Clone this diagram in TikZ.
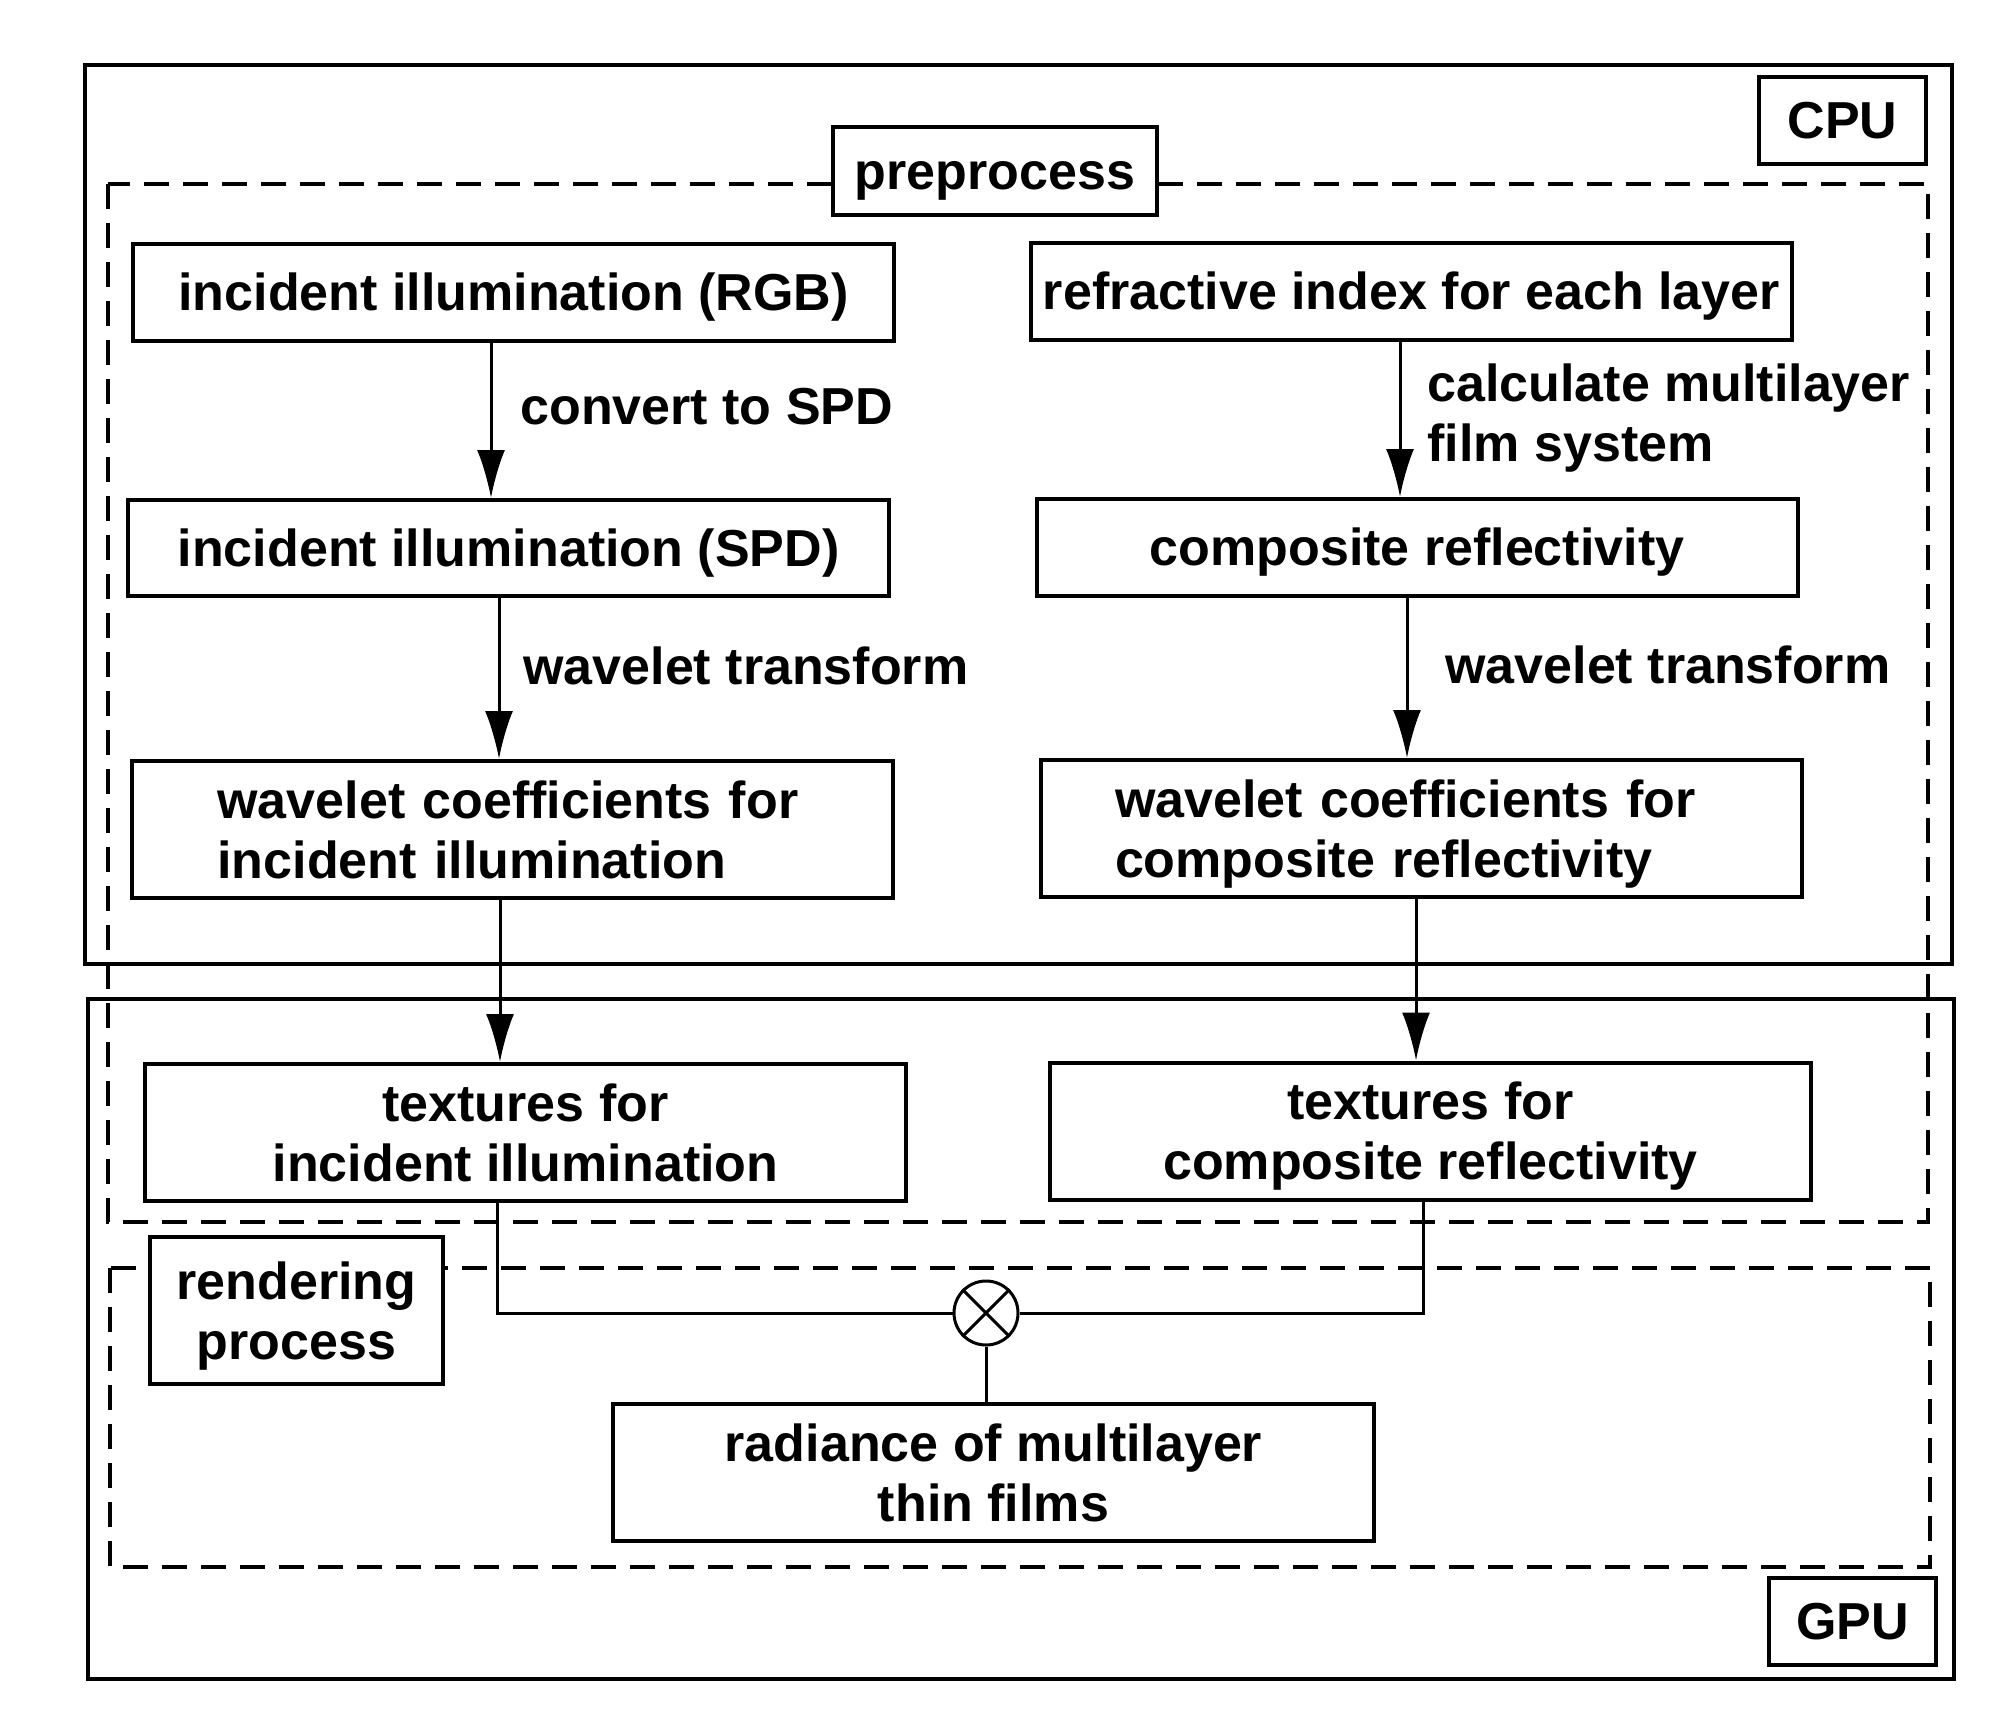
\documentclass[tikz,border=0pt]{standalone}
\usepackage{fontspec}
\setmainfont{Liberation Sans}
\usetikzlibrary{arrows.meta}
\tikzset{
  txt/.style={font=\fontsize{26}{30}\selectfont\bfseries, inner sep=0pt},
  box/.style={txt, draw, line width=2pt, fill=white, align=center,
    minimum width=380.5pt, minimum height=48.5pt},
  one/.style={text height=19pt, text depth=1pt},
  multi/.style={text depth=0pt},
  tallbox/.style={box, minimum height=68.5pt},
  tagbox/.style={box, one, minimum width=83.5pt, minimum height=43.5pt},
  frame/.style={draw, line width=2pt},
  dashframe/.style={draw, line width=2.2pt, dash pattern=on 12.5pt off 7pt},
  conn/.style={line width=1.5pt},
  arr/.style={conn, -{Latex[length=24pt,width=14pt]}},
}
\begin{document}
\begin{tikzpicture}[x=0.5pt,y=-0.5pt]
\useasboundingbox (0,0) rectangle (2000,1719);
% frames
\draw[frame] (85,65) rectangle (1952,964);
\draw[frame] (88,999) rectangle (1954,1679);
\draw[dashframe] (108,184) rectangle (1928,1222);
\draw[dashframe] (110,1268) rectangle (1930,1567);
% tags
\node[tagbox] (cpu) at (1842.5,120.5) {CPU};
\node[tagbox] (gpu) at (1852.5,1621.5) {GPU};
\node[box, one, minimum width=162pt, minimum height=44pt] (pre) at (995,171) {preprocess};
\node[box, multi, minimum width=146.5pt, minimum height=73.5pt] (ren) at (296.5,1310.5) {rendering\\process};
% boxes
\node[box, one] (rgb) at (513.5,292.5) {incident illumination (RGB)};
\node[box, one] (refr) at (1411.5,291.5) {refractive index for each layer};
\node[box, one, minimum height=48pt] (spd) at (508.5,548) {incident illumination (SPD)};
\node[box, one] (comp) at (1417,547.5) {composite reflectivity};
\node[tallbox, align=left, inner xsep=43pt, text width=294.5pt] (wci) at (512,829.5)
  {wavelet coefficients for\\incident illumination};
\node[tallbox, align=left, inner xsep=37pt, text width=306.5pt] (wcc) at (1421.5,828.5)
  {wavelet coefficients for\\\raisebox{0pt}[\height][0pt]{composite reflectivity}};
\node[tallbox, multi] (ti) at (525.5,1132.5) {textures for\\incident illumination};
\node[tallbox, multi] (tc) at (1430.5,1131) {textures for\\composite reflectivity};
\node[tallbox, multi] (rad) at (993.5,1472.5) {radiance of multilayer\\thin films};
\node[draw, circle, line width=1.5pt, minimum size=32pt, inner sep=0pt, fill=white] (mul) at (986,1313) {};
\draw[conn] (mul.north west) -- (mul.south east);
\draw[conn] (mul.north east) -- (mul.south west);
% arrow columns
\coordinate (xa) at (491,0);
\coordinate (xb) at (499,0);
\coordinate (xc) at (500,0);
\coordinate (xd) at (1400,0);
\coordinate (xe) at (1407,0);
\coordinate (xf) at (1416,0);
\coordinate (xl) at (497,0);
\coordinate (xr) at (1423,0);
% arrows
\draw[arr] (rgb.south -| xa) -- (spd.north -| xa);
\draw[arr] (spd.south -| xb) -- (wci.north -| xb);
\draw[arr] (wci.south -| xc) -- (ti.north -| xc);
\draw[arr] (refr.south -| xd) -- (comp.north -| xd);
\draw[arr] (comp.south -| xe) -- (wcc.north -| xe);
\draw[arr] (wcc.south -| xf) -- (tc.north -| xf);
% product
\draw[conn] (ti.south -| xl) |- (mul.west);
\draw[conn] (tc.south -| xr) |- (mul.east);
\draw[conn] (mul.south) -- (rad.north -| mul.south);
% labels
\node[txt, anchor=west] (l1) at (520,407) {convert to SPD};
\node[txt, anchor=west] (l2) at (523,666) {wavelet transform};
\node[txt, multi, anchor=west, align=left] (l3) at (1427,413) {calculate multilayer\\film system};
\node[txt, anchor=west] (l4) at (1445,665) {wavelet transform};
\end{tikzpicture}
\end{document}
